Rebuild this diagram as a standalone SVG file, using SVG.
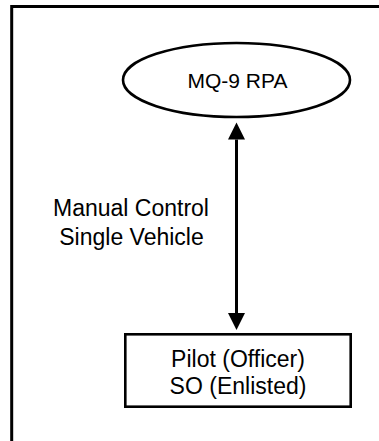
<svg xmlns="http://www.w3.org/2000/svg" width="379" height="441" viewBox="0 0 379 441">
<style>
.t{font-family:"Liberation Sans",Arial,sans-serif;font-size:23px;fill:#000;text-anchor:middle}
.s{fill:none;stroke:#000;stroke-width:2.6}
</style>
<defs>
<marker id="ah" viewBox="0 0 19 17" refX="0" refY="8.5" markerWidth="19" markerHeight="17" markerUnits="userSpaceOnUse" orient="auto-start-reverse">
<path d="M0,0 L17,8.5 L0,17 Z" fill="#000"/>
</marker>
</defs>
<rect width="379" height="441" fill="#fff"/>
<g id="frame">
<path d="M11.7,441 V6.5 H379" fill="none" stroke="#000" stroke-width="3"/>
</g>
<g id="connectors">
<line x1="236.5" y1="139.5" x2="236.5" y2="313" stroke="#000" stroke-width="3" marker-start="url(#ah)" marker-end="url(#ah)"/>
</g>
<g id="label">
<text class="t" x="131" y="216">Manual Control</text>
<text class="t" x="131.5" y="244.5">Single Vehicle</text>
</g>
<g id="rpa">
<ellipse class="s" cx="236.5" cy="80" rx="113.5" ry="37"/>
<text class="t" x="237.5" y="87.5" style="font-size:21px">MQ-9 RPA</text>
</g>
<g id="crew">
<rect class="s" x="125.3" y="334.3" width="225.4" height="72.4"/>
<text class="t" x="238" y="366.5">Pilot (Officer)</text>
<text class="t" x="238" y="393.5">SO (Enlisted)</text>
</g>
</svg>
